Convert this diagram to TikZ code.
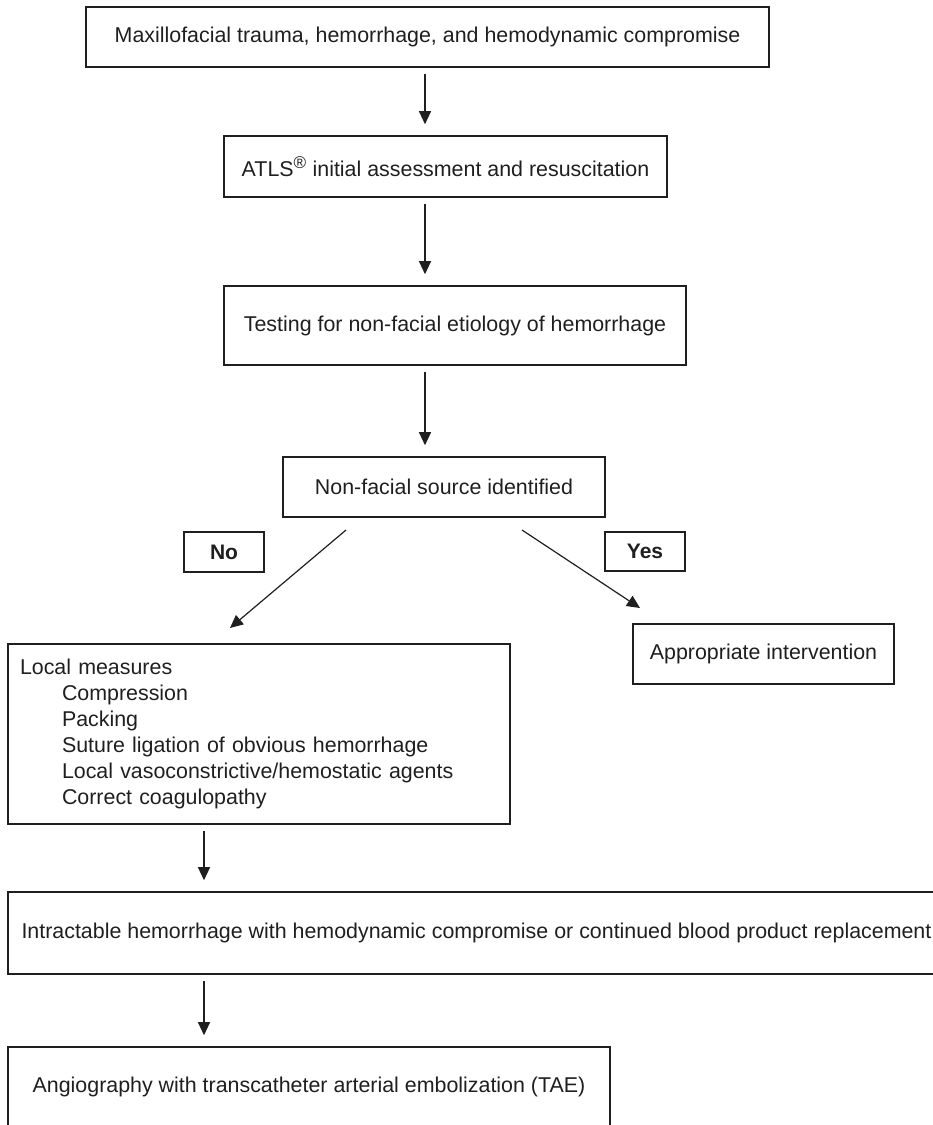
\documentclass[tikz,border=0pt]{standalone}
\usepackage{fontspec}
\setmainfont{Liberation Sans}
\usetikzlibrary{arrows.meta}
\tikzset{
  box/.style={draw=black!88, line width=1.6pt, rectangle, inner sep=0pt, align=center,
    font=\fontsize{21.4}{26}\selectfont, text=black!88},
  lbl/.style={box, font=\fontsize{21}{26}\selectfont\bfseries},
  arr/.style={draw=black!88, line width=1.2pt, -{Triangle[length=13pt,width=12pt]},
    shorten <=6pt, shorten >=11pt}
}
\begin{document}
\begin{tikzpicture}[x=1pt,y=-1pt]
\useasboundingbox (0,0) rectangle (933,1125);
\node[box, minimum width=683, minimum height=60] (b1) at (427.5,37)
  {Maxillofacial trauma, hemorrhage, and hemodynamic compromise};
\node[box, minimum width=443, minimum height=61] (b2) at (445.5,166.5)
  {ATLS\textsuperscript{\fontsize{17}{17}\selectfont ®} initial assessment and resuscitation};
\node[box, minimum width=462, minimum height=79] (b3) at (455,325.5)
  {Testing for non-facial etiology of hemorrhage};
\node[box, minimum width=322, minimum height=60] (b4) at (444,487)
  {Non-facial source identified};
\node[lbl, minimum width=80, minimum height=40] (no) at (224,552) {No};
\node[lbl, minimum width=80, minimum height=39] (yes) at (645,551.5) {Yes};
\node[box, minimum width=502, minimum height=180, text width=478, align=left,
  inner xsep=12pt] (loc) at (259,734)
  {Local measures\\
   \hspace*{42pt}Compression\\
   \hspace*{42pt}Packing\\
   \hspace*{42pt}Suture ligation of obvious hemorrhage\\
   \hspace*{42pt}Local vasoconstrictive/hemostatic agents\\
   \hspace*{42pt}Correct coagulopathy};
\node[box, minimum width=261, minimum height=60] (app) at (763.5,654)
  {Appropriate intervention};
\node[box, minimum width=937, minimum height=82] (b6) at (476.5,933)
  {Intractable hemorrhage with hemodynamic compromise or continued blood product replacement};
\node[box, minimum width=602, minimum height=80] (b7) at (309,1087)
  {Angiography with transcatheter arterial embolization (TAE)};
\coordinate (ax) at (425,0);
\coordinate (bx) at (204,0);
\draw[arr] (b1.south -| ax) -- (b2.north -| ax);
\draw[arr] (b2.south -| ax) -- (b3.north -| ax);
\draw[arr] (b3.south -| ax) -- (b4.north -| ax);
\coordinate (nos) at (346,530);
\coordinate (noe) at (230,628);
\coordinate (yess) at (522,530);
\coordinate (yese) at (640,608);
\draw[arr, shorten <=0pt, shorten >=0pt] (nos) -- (noe);
\draw[arr, shorten <=0pt, shorten >=0pt] (yess) -- (yese);
\draw[arr] (loc.south -| bx) -- (b6.north -| bx);
\draw[arr] (b6.south -| bx) -- (b7.north -| bx);
\end{tikzpicture}
\end{document}
